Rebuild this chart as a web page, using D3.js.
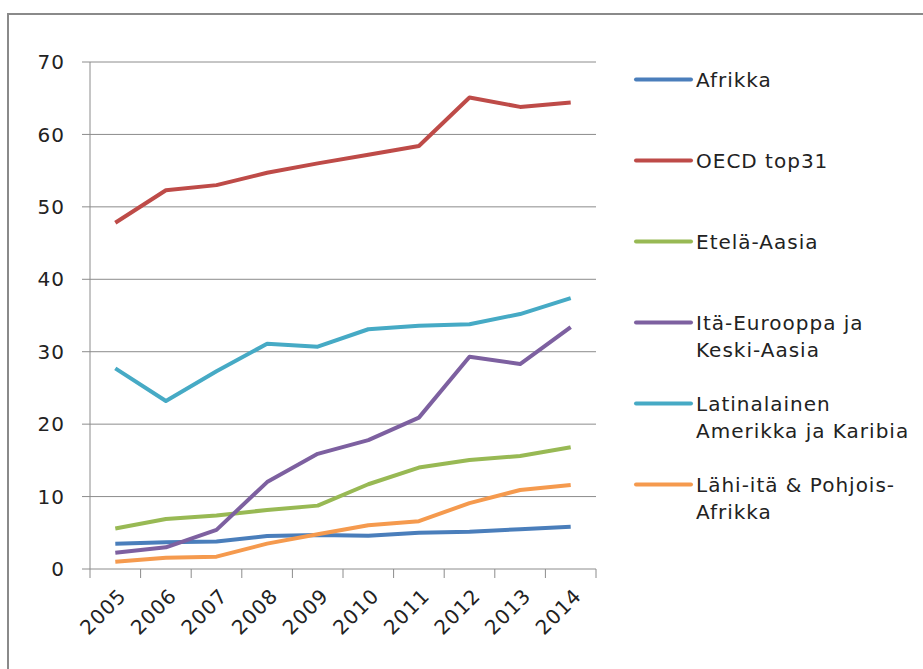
<!DOCTYPE html>
<html>
<head>
<meta charset="utf-8">
<script src="https://cdn.jsdelivr.net/npm/d3@7"></script>
<style>
  body { margin: 0; background: #fff; }
  text { font-family: "DejaVu Sans", sans-serif; fill: #222; letter-spacing: 1px; }
</style>
</head>
<body>
<svg width="923" height="669"></svg>
<script>
var years = ["2005", "2006", "2007", "2008", "2009", "2010", "2011", "2012", "2013", "2014"];

var afrikka = [3.5, 3.7, 3.8, 4.55, 4.7, 4.6, 5.0, 5.15, 5.5, 5.85];
var oecd = [47.8, 52.3, 53.0, 54.7, 56.0, 57.2, 58.4, 65.1, 63.8, 64.4];
var etelaAasia = [5.6, 6.9, 7.4, 8.15, 8.75, 11.7, 14.0, 15.05, 15.6, 16.8];
var itaEurooppa = [2.25, 3.0, 5.4, 12.0, 15.9, 17.8, 20.9, 29.3, 28.3, 33.4];
var latinalainen = [27.7, 23.2, 27.3, 31.1, 30.7, 33.1, 33.6, 33.8, 35.2, 37.4];
var lahiIta = [1.0, 1.55, 1.7, 3.5, 4.8, 6.05, 6.6, 9.1, 10.9, 11.6];

var yTicks = [0, 10, 20, 30, 40, 50, 60, 70];

var series = [
  {name: ["Afrikka"], values: afrikka, color: "#4A7EBB"},
  {name: ["OECD top31"], values: oecd, color: "#BE4B48"},
  {name: ["Etelä-Aasia"], values: etelaAasia, color: "#98B954"},
  {name: ["Itä-Eurooppa ja", "Keski-Aasia"], values: itaEurooppa, color: "#7D60A0"},
  {name: ["Latinalainen", "Amerikka ja Karibia"], values: latinalainen, color: "#46AAC5"},
  {name: ["Lähi-itä & Pohjois-", "Afrikka"], values: lahiIta, color: "#F59A4E"}
];

var svg = d3.select("svg"),
    margin = {top: 62, left: 90},
    width = 506,
    height = 507;

// outer frame
svg.append("rect")
    .attr("x", 8).attr("y", 14)
    .attr("width", 930).attr("height", 700)
    .attr("fill", "none")
    .attr("stroke", "#8a8a8a")
    .attr("stroke-width", 2);

var g = svg.append("g").attr("transform", "translate(" + margin.left + "," + margin.top + ")");

var x = d3.scaleBand().domain(years).range([0, width]),
    y = d3.scaleLinear().domain([0, 70]).range([height, 0]);

// gridlines
g.selectAll(".grid")
  .data(yTicks)
  .enter().append("line")
    .attr("x1", -8).attr("x2", width)
    .attr("y1", function(d) { return y(d); })
    .attr("y2", function(d) { return y(d); })
    .attr("stroke", "#8c8c8c")
    .attr("stroke-width", 1);

// y axis
g.append("line")
    .attr("x1", 0).attr("x2", 0)
    .attr("y1", 0).attr("y2", height)
    .attr("stroke", "#8c8c8c");

g.selectAll(".ylab")
  .data(yTicks)
  .enter().append("text")
    .attr("x", -25)
    .attr("y", function(d) { return y(d); })
    .attr("dy", "0.36em")
    .attr("text-anchor", "end")
    .style("font-size", "20px")
    .text(function(d) { return d; });

// x ticks
var edges = years.map(function(d) { return x(d); }).concat([width]);
g.selectAll(".xtick")
  .data(edges)
  .enter().append("line")
    .attr("x1", function(d) { return d; })
    .attr("x2", function(d) { return d; })
    .attr("y1", height).attr("y2", height + 9)
    .attr("stroke", "#8c8c8c");

g.selectAll(".xlab")
  .data(years)
  .enter().append("text")
    .attr("text-anchor", "end")
    .attr("transform", function(d) {
      return "translate(" + (x(d) + x.bandwidth() / 2 + 7) + "," + (height + 23) + ") rotate(-45)";
    })
    .attr("dy", "0.36em")
    .style("font-size", "20px")
    .text(function(d) { return d; });

var line = d3.line()
    .x(function(d, i) { return x(years[i]) + x.bandwidth() / 2; })
    .y(function(d) { return y(d); });

g.selectAll(".series")
  .data(series)
  .enter().append("path")
    .attr("fill", "none")
    .attr("stroke", function(d) { return d.color; })
    .attr("stroke-width", 4)
    .attr("stroke-linejoin", "round")
    .attr("d", function(d) { return line(d.values); });

// legend
var legend = svg.selectAll(".legend")
  .data(series)
  .enter().append("g")
    .attr("transform", function(d, i) { return "translate(636," + (79.5 + i * 81) + ")"; });

legend.append("line")
    .attr("x1", 0).attr("x2", 55)
    .attr("stroke", function(d) { return d.color; })
    .attr("stroke-width", 4)
    .attr("stroke-linecap", "round");

legend.append("text")
    .style("font-size", "20px")
    .selectAll("tspan")
    .data(function(d) { return d.name; })
    .enter().append("tspan")
      .attr("x", 60)
      .attr("y", function(d, i) { return i * 27.5; })
      .attr("dy", "0.36em")
      .text(function(d) { return d; });
</script>
</body>
</html>
